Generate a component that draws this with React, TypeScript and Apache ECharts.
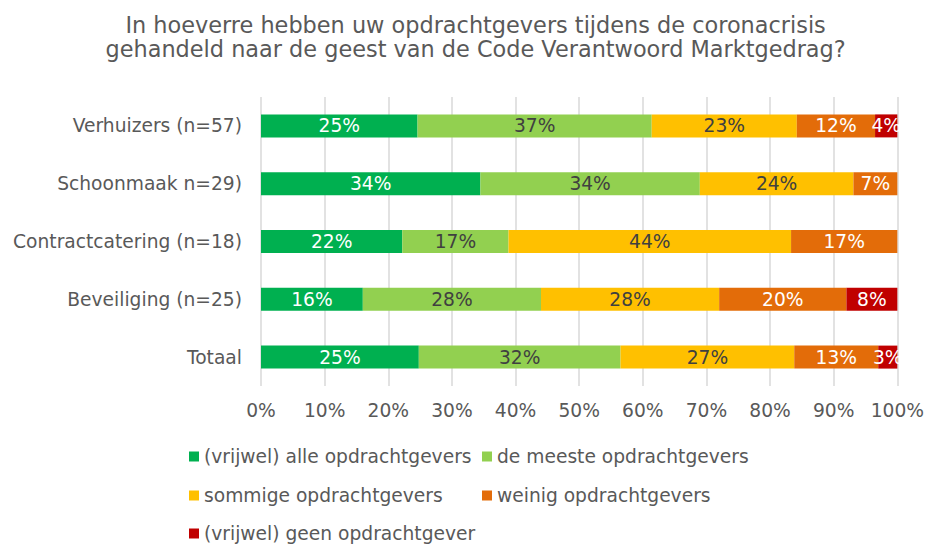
import React, { useEffect, useRef } from "react";
import * as echarts from "echarts";

const titleLines = [
  "In hoeverre hebben uw opdrachtgevers tijdens de coronacrisis",
  "gehandeld naar de geest van de Code Verantwoord Marktgedrag?",
];
const categories = [
  "Verhuizers (n=57)",
  "Schoonmaak n=29)",
  "Contractcatering (n=18)",
  "Beveiliging (n=25)",
  "Totaal",
];
const seriesNames = [
  "(vrijwel) alle opdrachtgevers",
  "de meeste opdrachtgevers",
  "sommige opdrachtgevers",
  "weinig opdrachtgevers",
  "(vrijwel) geen opdrachtgever",
];
const alle = [24.6, 34.48, 22.2, 16.0, 24.8];
const meeste = [36.8, 34.48, 16.7, 28.0, 31.7];
const sommige = [22.8, 24.14, 44.4, 28.0, 27.3];
const weinig = [12.3, 6.9, 16.7, 20.0, 13.2];
const geen = [3.5, 0, 0, 8.0, 3.0];
const seriesValues = [alle, meeste, sommige, weinig, geen];
const colors = ["#00B050", "#92D050", "#FFC000", "#E36C09", "#C00000"];
const labelColors = ["#FFFFFF", "#404040", "#404040", "#FFFFFF", "#FFFFFF"];

const FONT = "'DejaVu Sans', Verdana, sans-serif";
const FS = 18.67;

const legendPos = [
  { left: 189, top: 447 },
  { left: 482, top: 447 },
  { left: 189, top: 486 },
  { left: 482, top: 486 },
  { left: 189, top: 524 },
];
const titleY = [25, 49];

export default function App() {
  const ref = useRef<HTMLDivElement>(null);
  useEffect(() => {
    document.body.style.margin = "0";
    if (!ref.current) return;
    const chart = echarts.init(ref.current, null, { renderer: "svg" });
    chart.setOption({
      animation: false,
      backgroundColor: "#FFFFFF",
      graphic: titleLines.map((t, i) => ({
        type: "text",
        x: 475.6,
        y: titleY[i],
        style: {
          text: t,
          align: "center",
          verticalAlign: "middle",
          fontFamily: FONT,
          fontSize: 22.4,
          fill: "#595959",
        },
      })),
      legend: seriesNames.map((name, i) => ({
        data: [name],
        left: legendPos[i].left,
        top: legendPos[i].top,
        padding: 0,
        itemWidth: 10,
        itemHeight: 10,
        icon: "rect",
        selectedMode: false,
        textStyle: { fontFamily: FONT, fontSize: FS, color: "#595959" },
      })),
      grid: { left: 261, right: 29, top: 97, bottom: 159, containLabel: false },
      xAxis: {
        type: "value",
        min: 0,
        max: 100,
        interval: 10,
        axisLabel: {
          formatter: (v: number) => `${v}%`,
          fontFamily: FONT,
          fontSize: FS,
          color: "#595959",
          margin: 15,
        },
        axisLine: { show: false },
        axisTick: { show: false },
        splitLine: { show: true, lineStyle: { color: "#D9D9D9", width: 1.5 } },
      },
      yAxis: {
        type: "category",
        data: categories,
        inverse: true,
        axisLabel: { fontFamily: FONT, fontSize: FS, color: "#595959", margin: 19 },
        axisLine: { show: false },
        axisTick: { show: false },
      },
      series: seriesValues.map((vals, i) => ({
        name: seriesNames[i],
        type: "bar",
        stack: "total",
        barWidth: 23,
        data: vals,
        itemStyle: { color: colors[i] },
        label: {
          show: true,
          position: "inside",
          fontFamily: FONT,
          fontSize: FS,
          color: labelColors[i],
          formatter: (p: any) => (p.value > 0 ? `${Math.round(p.value)}%` : ""),
        },
      })),
    });
    return () => chart.dispose();
  }, []);
  return <div ref={ref} style={{ width: 927, height: 545 }} />;
}
